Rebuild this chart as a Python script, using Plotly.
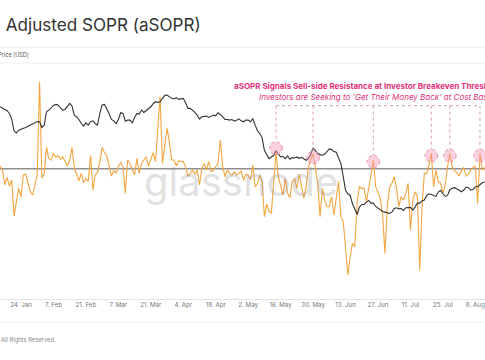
import plotly.graph_objects as go
import pandas as pd

# ---------------- data ----------------
start_date = "2022-01-15"

asopr = [
    1.002, 0.999, 0.988, 0.9935, 0.987, 0.9915, 0.9645, 0.9765, 0.9853, 0.979,
    0.9953, 0.996, 0.9885, 0.9828, 0.9803, 0.9878, 0.9953, 1.0653, 0.9928, 0.9965,
    1.016, 1.0078, 1.0065, 1.0115, 1.0085, 1.0098, 1.007, 1.009, 1.0058, 1.002,
    1.0065, 1.016, 1.0003, 0.9953, 0.991, 0.9965, 0.9895, 0.9928, 0.9903, 1.0098,
    0.984, 0.9953, 0.997, 1.0053, 1.016, 1.012, 1.0095, 1.002, 0.9945, 0.9985,
    0.997, 1.002, 1.0045, 1.0015, 0.9815, 1.0065, 1.004, 0.9995, 0.9953, 1.0078,
    0.9965, 1.004, 1.007, 1.009, 1.002, 1.0078, 1.012, 1.0053, 1.029, 1.054,
    1.004, 1.019, 1.0303, 1.0203, 1.0065, 1.0065, 1.002, 1.006, 1.0053, 1.0053,
    1.0015, 0.994, 0.9965, 0.999, 0.996, 0.999, 0.9878, 1.0003, 1.004, 0.999,
    1.0053, 0.9978, 0.999, 1.0015, 1.004, 1.0215, 1.0015, 0.994, 0.999, 0.9965,
    0.9953, 0.9978, 0.9953, 0.9965, 0.9983, 0.9915, 0.996, 0.9948, 0.992, 1.0028,
    0.9865, 0.989, 0.9953, 0.9903, 0.964, 0.9735, 0.9678, 0.9665, 0.9878, 1.0128,
    0.994, 0.9865, 0.9803, 0.9928, 0.9815, 0.9785, 0.9903, 0.9928, 0.9853, 0.996,
    0.9878, 0.9778, 0.9865, 1.0015, 1.0065, 1.0115, 1.0003, 0.989, 0.964, 0.9853,
    0.9765, 0.9715, 0.9715, 0.979, 0.9653, 0.979, 0.9903, 0.964, 0.9603, 0.9415,
    0.9203, 0.934, 0.944, 0.9415, 0.974, 0.9865, 0.9853, 0.9853, 0.9753, 0.9853,
    0.9945, 1.0065, 0.9865, 0.9815, 0.9778, 0.9653, 0.9365, 0.9715, 0.986, 0.989,
    0.994, 0.9853, 0.9715, 0.979, 0.9765, 0.9815, 0.989, 0.954, 0.9765, 0.9828,
    0.979, 0.924, 0.9715, 0.9965, 0.9965, 1.0028, 1.0115, 0.9865, 0.999, 0.9903,
    0.989, 0.9815, 0.9878, 1.0015, 1.0115, 1.0015, 0.9985, 0.997, 0.9945, 0.9985,
    1.001, 0.9945, 0.996, 0.999, 1.001, 1.002, 0.974, 1.0115, 0.999, 1.001,
]

price = [
    42950, 42620, 42080, 41650, 40800, 38950, 35700, 35150, 35880, 36150,
    36340, 36620, 37000, 37390, 37770, 37960, 38360, 38260, 36620, 37290,
    41320, 41860, 42620, 43400, 43730, 43510, 42620, 41860, 42080, 42950,
    44070, 43170, 40280, 39760, 38950, 37770, 37000, 37960, 37290, 38260,
    38550, 37770, 37290, 40800, 43510, 43730, 42400, 40800, 38950, 38550,
    37770, 38950, 41010, 40800, 38450, 38750, 38750, 37960, 39560, 40800,
    40590, 41860, 41110, 41650, 42400, 42950, 43960, 44640, 44410, 44640,
    45810, 46880, 47000, 46400, 45810, 45570, 46050, 45460, 45570, 45810,
    44300, 42400, 42400, 41860, 41110, 40280, 39050, 39760, 39760, 39970,
    39560, 39860, 40280, 40070, 41010, 40490, 39760, 38950, 38950, 38750,
    38950, 38450, 38750, 39150, 38550, 38260, 38750, 38750, 38260, 39250,
    37290, 35700, 34970, 33900, 30750, 29590, 28840, 29210, 29590, 30590,
    29970, 29210, 29360, 28840, 29440, 28690, 29060, 28990, 29210, 28910,
    29140, 28770, 28470, 28840, 29820, 31310, 30590, 29970, 29740, 29590,
    29820, 30360, 31070, 30910, 30440, 30280, 28840, 27750, 25170, 22600,
    22020, 21740, 20390, 19620, 18780, 19880, 20290, 20290, 20660, 20920,
    20500, 20500, 19980, 19720, 19470, 19230, 19130, 18980, 18930, 19130,
    19670, 19780, 19620, 19670, 19370, 19780, 19780, 19830, 19470, 19880,
    20500, 20500, 20820, 20980, 21740, 22020, 21910, 21740, 21580, 22310,
    22600, 22020, 21580, 21740, 22720, 22950, 23070, 22890, 22660, 22370,
    22660, 23180, 23070, 22660, 22770, 23240, 23240, 23670, 23970, 24090,
]

tick_dates = ["2022-01-24", "2022-02-07", "2022-02-21", "2022-03-07", "2022-03-21",
              "2022-04-04", "2022-04-18", "2022-05-02", "2022-05-16", "2022-05-30",
              "2022-06-13", "2022-06-27", "2022-07-11", "2022-07-25", "2022-08-08"]
tick_labels = ["24. Jan", "7. Feb", "21. Feb", "7. Mar", "21. Mar", "4. Apr", "18. Apr",
               "2. May", "16. May", "30. May", "13. Jun", "27. Jun", "11. Jul", "25. Jul", "8. Aug"]

# highlighted resistance touches (date, aSOPR level)
signal_dates = ["2022-05-14", "2022-05-30", "2022-06-25", "2022-07-20", "2022-07-28", "2022-08-10"]
signal_levels = [1.0155, 1.0083, 1.0053, 1.0098, 1.0098, 1.0098]
guide_level = 1.0473

title_text = "Bitcoin: Adjusted SOPR (aSOPR)"
legend_text = "Close Price [USD]"
note_line1 = "aSOPR Signals Sell-side Resistance at Investor Breakeven Threshold"
note_line2 = "Investors are Seeking to 'Get Their Money Back' at Cost Basis"
footer_text = "© 2022 Glassnode. All Rights Reserved."

# ---------------- figure ----------------
W, H = 485, 360
ML, MR, MT, MB = 0, 0, 63, 61
FONT = "Inter, 'Noto Sans', sans-serif"


def px_x(px):
    return px / W


def px_y(py):
    return (H - MB - py) / (H - MT - MB)


dates = pd.date_range(start_date, periods=len(asopr), freq="D")

fig = go.Figure()
fig.add_trace(go.Scatter(x=dates, y=asopr, mode="lines", name="aSOPR",
                         line=dict(color="#f3a540", width=1.1), yaxis="y"))
fig.add_trace(go.Scatter(x=dates, y=price, mode="lines", name="Price",
                         line=dict(color="#333333", width=1.1), yaxis="y2"))

shapes = []
# aSOPR = 1 baseline
shapes.append(dict(type="line", xref="paper", yref="y", x0=0, x1=1, y0=1, y1=1,
                   line=dict(color="#8f8f8f", width=1.5), layer="below"))
# frame lines (legend band, footer)
for py in (47, 63, 322):
    shapes.append(dict(type="line", xref="paper", yref="paper", x0=0, x1=1,
                       y0=px_y(py), y1=px_y(py), line=dict(color="#ececec", width=1)))
# dotted guide + circles
shapes.append(dict(type="line", xref="x", yref="y", x0=signal_dates[0], x1=signal_dates[-1],
                   y0=guide_level, y1=guide_level,
                   line=dict(color="#c9a3b3", width=1, dash="dot")))
R = 6.3
for d, lv in zip(signal_dates, signal_levels):
    shapes.append(dict(type="line", xref="x", yref="y", x0=d, x1=d,
                       y0=guide_level, y1=lv + R * 0.00075,
                       line=dict(color="#dc9ab4", width=1, dash="dot")))
    shapes.append(dict(type="circle", xref="x", yref="y",
                       xsizemode="pixel", ysizemode="pixel",
                       xanchor=d, yanchor=lv, x0=-R, x1=R, y0=-R, y1=R,
                       fillcolor="rgba(244,150,185,0.45)",
                       line=dict(color="#e58fb0", width=1, dash="dot")))

annotations = [
    dict(text=title_text, xref="paper", yref="paper", x=px_x(203), y=px_y(24.5),
         xanchor="right", yanchor="middle", showarrow=False,
         font=dict(family=FONT, size=17.1, color="#333333")),
    dict(text=legend_text, xref="paper", yref="paper", x=px_x(31), y=px_y(54.5),
         xanchor="right", yanchor="middle", showarrow=False,
         font=dict(family=FONT, size=5.5, color="#555555")),
    dict(text="glassnode", xref="paper", yref="paper", x=px_x(241), y=px_y(181),
         xanchor="center", yanchor="middle", showarrow=False,
         font=dict(family=FONT, size=40, color="rgba(150,150,150,0.3)")),
    dict(text="<b>" + note_line1 + "</b>", xref="paper", yref="paper", x=px_x(232), y=px_y(86),
         xanchor="left", yanchor="middle", showarrow=False,
         font=dict(family=FONT, size=8, color="#e2327c")),
    dict(text="<i>" + note_line2 + "</i>", xref="paper", yref="paper", x=px_x(257), y=px_y(97),
         xanchor="left", yanchor="middle", showarrow=False,
         font=dict(family=FONT, size=8, color="#e2327c")),
    dict(text=footer_text, xref="paper", yref="paper", x=px_x(58), y=px_y(340),
         xanchor="right", yanchor="middle", showarrow=False,
         font=dict(family=FONT, size=5.8, color="#8a8a8a")),
]

fig.update_layout(
    width=W, height=H,
    margin=dict(l=ML, r=MR, t=MT, b=MB),
    paper_bgcolor="white", plot_bgcolor="white",
    showlegend=False,
    font=dict(family=FONT),
    xaxis=dict(range=["2022-01-14 22:30", "2022-08-12 04:00"], showgrid=False, zeroline=False,
               tickvals=tick_dates, ticktext=tick_labels, ticks="",
               ticklabeloverflow="allow",
               tickfont=dict(size=6.2, color="#777777"),
               showline=True, linecolor="#e3e3e3", linewidth=1),
    yaxis=dict(range=[0.9023, 1.0793], visible=False, showgrid=False, zeroline=False),
    yaxis2=dict(type="log", range=[3.992, 4.7788], overlaying="y", side="right",
                visible=False, showgrid=False, zeroline=False),
    shapes=shapes,
    annotations=annotations,
)

fig.write_html("out.html", config={"displayModeBar": False},
               post_script="document.body.style.margin='0px';document.body.style.overflow='hidden';")
